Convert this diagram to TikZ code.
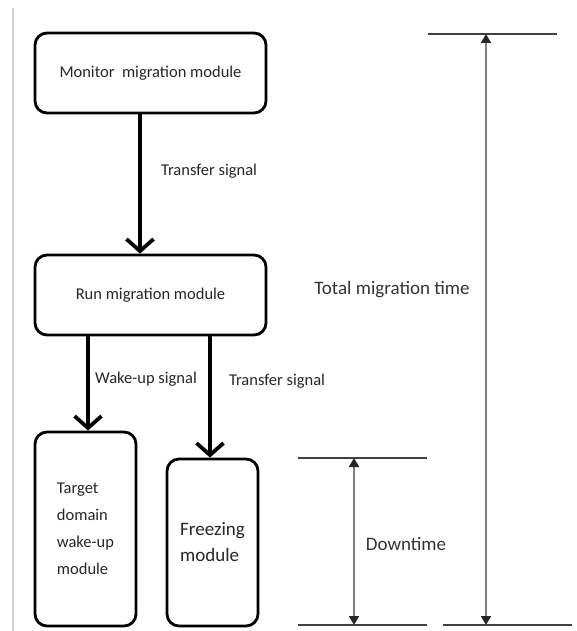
\documentclass[tikz,border=0pt]{standalone}
\usepackage{fontspec}
\setmainfont{Carlito}
\usetikzlibrary{arrows.meta}
\begin{document}
\begin{tikzpicture}[x=1pt,y=-1pt,
  box/.style={draw=black,line width=2.8pt,rounded corners=12pt,inner sep=0pt,fill=white},
  lbl/.style={font=\fontsize{16.5}{20}\selectfont,text=black!85,inner sep=0pt},
  biglbl/.style={font=\fontsize{19}{23}\selectfont,text=black!80,inner sep=0pt},
  arr/.style={line width=3.8pt,-{Straight Barb[length=12pt,width=27pt,line width=3.8pt]}},
  dim/.style={line width=1.8pt,draw=black!50,{Triangle[length=9pt,width=10pt,color=black!85,fill=black!85]}-{Triangle[length=9pt,width=10pt,color=black!85,fill=black!85]}},
  rule/.style={line width=1.7pt,draw=black!75}]
\useasboundingbox (0,0) rectangle (577,631);
% page margin line
\draw[line width=1.2pt,black!18] (13,8) -- (13,631);
% boxes
\node[box,minimum width=231pt,minimum height=80pt,lbl] (mon) at (150.5,73) {Monitor\ \ migration module};
\node[box,minimum width=231pt,minimum height=80pt,lbl] (run) at (150.5,295) {Run migration module};
\node[box,minimum width=101pt,minimum height=194pt,align=left,
      font=\fontsize{16.5}{27}\selectfont,text=black!85] (tgt) at (85.5,529)
      {Target\\domain\\wake-up\\module};
\node[box,minimum width=91pt,minimum height=167pt,align=left,
      font=\fontsize{19}{26}\selectfont,text=black!85] (frz) at (212.5,542.5)
      {Freezing\\module};
% arrows
\draw[arr] ([xshift=-10.5pt]mon.south) -- ([xshift=-10.5pt]run.north);
\draw[arr] ([xshift=2.5pt]tgt.north |- run.south) -- ([xshift=2.5pt]tgt.north);
\draw[arr] ([xshift=-2.5pt]frz.north |- run.south) -- ([xshift=-2.5pt]frz.north);
% arrow labels
\node[lbl] (t1) at (209,171) {Transfer signal};
\node[lbl] (t2) at (146,379) {Wake-up signal};
\node[lbl] (t3) at (277,381) {Transfer signal};
% time dimensions
\coordinate (ttl) at (428,34);  \coordinate (ttr) at (557,34);
\coordinate (dtl) at (298,458); \coordinate (dtr) at (427,458);
\coordinate (bl1) at (298,625); \coordinate (br1) at (427,625);
\coordinate (bl2) at (443,625); \coordinate (br2) at (572,625);
\coordinate (tA) at (486,34);  \coordinate (tB) at (486,625);
\coordinate (dA) at (354,458); \coordinate (dB) at (354,625);
\draw[rule] (ttl) -- (ttr);
\draw[rule] (dtl) -- (dtr);
\draw[rule] (bl1) -- (br1);
\draw[rule] (bl2) -- (br2);
\draw[dim] (tA) -- (tB);
\draw[dim] (dA) -- (dB);
\node[biglbl] (total) at (392,290) {Total migration time};
\node[biglbl] (down) at (406,544) {Downtime};
\end{tikzpicture}
\end{document}
